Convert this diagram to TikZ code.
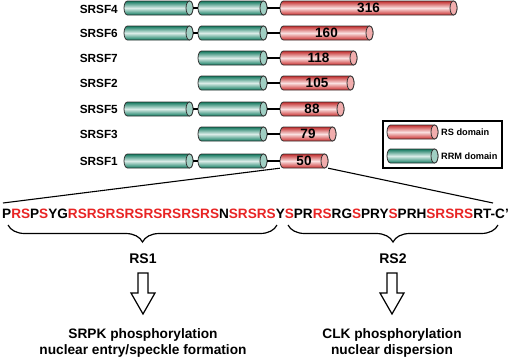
\documentclass[tikz,border=0pt]{standalone}
\usepackage{fontspec}
\setmainfont{Liberation Sans}
\usetikzlibrary{decorations.pathreplacing}

\definecolor{rsred}{RGB}{220,50,50}
\definecolor{rrmgreen}{RGB}{18,136,106}
\definecolor{seqred}{RGB}{232,36,36}
\definecolor{cylline}{RGB}{50,50,50}

\newcommand{\sred}[1]{\textcolor{seqred}{#1}}
% cylinder: name, left x, right x, y, colour, text
\newcommand{\cyl}[6]{%
  \path[draw=cylline, line width=0.8, top color=#5!88!black, bottom color=#5!92!black, middle color=white!85!#5]
    (#3-3.5,#4-7) -- (#2+3.5,#4-7)
    arc[start angle=-90, end angle=-270, x radius=3.5, y radius=7]
    -- (#3-3.5,#4+7)
    arc[start angle=90, end angle=-90, x radius=3.5, y radius=7] -- cycle;
  \draw[cylline, line width=0.8, fill=white!60!#5] (#3-3.5,#4) ellipse[x radius=3.5, y radius=7];
  \node[num, minimum width={#3-#2}] (#1) at ({(#2+#3)/2},#4) {#6};
}

\begin{document}
\begin{tikzpicture}[x=1pt, y=-1pt,
  num/.style={inner sep=0, minimum height=14, font=\bfseries\fontsize{13.5}{14}\selectfont},
  lbl/.style={anchor=east, inner sep=0, font=\bfseries\fontsize{11.8}{12}\selectfont},
  keytxt/.style={anchor=west, inner sep=0, font=\bfseries\fontsize{9.2}{10}\selectfont},
  link/.style={line width=1.1},
  rsbrace/.style={decorate, decoration={brace, mirror, amplitude=17}, line width=1.2},
  note/.style={align=center, inner sep=0, font=\bfseries\fontsize{13.7}{16}\selectfont},
  openarrow/.pic={\draw[line width=1.2, fill=white] (-5,0) -- (5,0) -- (5,20) -- (12,20)
    -- (0,41) -- (-12,20) -- (-5,20) -- cycle;}]
\useasboundingbox (0,0) rectangle (513,359);

\node[lbl] (n4) at (118,9) {SRSF4};
\cyl{f4a}{124}{193}{8}{rrmgreen}{}
\cyl{f4b}{198}{267}{8}{rrmgreen}{}
\cyl{f4c}{280}{457}{8}{rsred}{316}
\draw[link] (f4a.east) -- (f4b.west);
\draw[link] (f4b.east) -- (f4c.west);

\node[lbl] (n6) at (118,33) {SRSF6};
\cyl{f6a}{124}{193}{33}{rrmgreen}{}
\cyl{f6b}{198}{267}{33}{rrmgreen}{}
\cyl{f6c}{280}{373}{33}{rsred}{160}
\draw[link] (f6a.east) -- (f6b.west);
\draw[link] (f6b.east) -- (f6c.west);

\node[lbl] (n7) at (118,58) {SRSF7};
\cyl{f7b}{198}{267}{58}{rrmgreen}{}
\cyl{f7c}{280}{357}{58}{rsred}{118}
\draw[link] (f7b.east) -- (f7c.west);

\node[lbl] (n2) at (118,83) {SRSF2};
\cyl{f2b}{198}{267}{83}{rrmgreen}{}
\cyl{f2c}{280}{354}{83}{rsred}{105}
\draw[link] (f2b.east) -- (f2c.west);

\node[lbl] (n5) at (118,109) {SRSF5};
\cyl{f5a}{124}{193}{109}{rrmgreen}{}
\cyl{f5b}{198}{267}{109}{rrmgreen}{}
\cyl{f5c}{280}{344}{109}{rsred}{88}
\draw[link] (f5a.east) -- (f5b.west);
\draw[link] (f5b.east) -- (f5c.west);

\node[lbl] (n3) at (118,134) {SRSF3};
\cyl{f3b}{198}{267}{134}{rrmgreen}{}
\cyl{f3c}{280}{336}{134}{rsred}{79}
\draw[link] (f3b.east) -- (f3c.west);

\node[lbl] (n1) at (118,161) {SRSF1};
\cyl{f1a}{124}{193}{161}{rrmgreen}{}
\cyl{f1b}{198}{267}{161}{rrmgreen}{}
\cyl{f1c}{280}{328}{161}{rsred}{50}
\draw[link] (f1a.east) -- (f1b.west);
\draw[link] (f1b.east) -- (f1c.west);

% legend
\node[draw, line width=1.1, minimum width=119, minimum height=47, inner sep=0] (key) at (442.5,144.5) {};
\cyl{keyrs}{387}{438}{132}{rsred}{}
\cyl{keyrrm}{387}{438}{156}{rrmgreen}{}
\node[keytxt] (keyrstxt) at (441,132) {RS domain};
\node[keytxt] (keyrrmtxt) at (441,156) {RRM domain};

% SRSF1 RS domain
\node[anchor=base west, inner sep=0, font=\bfseries\fontsize{13.6}{14}\selectfont] (seq) at (2,218)
  {P\sred{RS}P\sred{S}YG\sred{RSRSRSRSRSRSRSRS}N\sred{SRSRS}Y\sred{S}PR\sred{RS}RG\sred{S}PRY\sred{S}PRH\sred{SRSRS}RT-C\char"27};
\coordinate (zl) at (3,203);
\coordinate (zr) at (493,203);
\draw[link] (f1c.south west) -- (zl);
\draw[link] (f1c.south east) -- (zr);

\draw[rsbrace] (8,225) -- (277,225);
\draw[rsbrace] (288,225) -- (498,225);
\node[font=\bfseries\fontsize{14}{15}\selectfont, inner sep=0] (rs1) at (143,258.5) {RS1};
\node[font=\bfseries\fontsize{14}{15}\selectfont, inner sep=0] (rs2) at (393,258.5) {RS2};

\pic at (143,273) {openarrow};
\pic at (392,273) {openarrow};

\node[note] (srpk) at (143,343) {SRPK phosphorylation\\nuclear entry/speckle formation};
\node[note] (clk) at (392,343) {CLK phosphorylation\\nuclear dispersion};
\end{tikzpicture}
\end{document}
